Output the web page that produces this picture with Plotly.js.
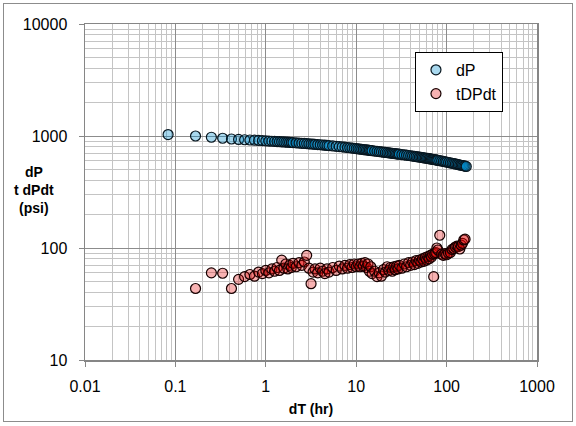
<!DOCTYPE html>
<html>
<head>
<meta charset="utf-8">
<script src="https://cdn.plot.ly/plotly-3.0.1.min.js"></script>
<style>
  html, body { margin: 0; padding: 0; background: #ffffff; }
  #wrap { position: relative; width: 576px; height: 426px; }
  #chart { position: absolute; left: 0; top: 0; width: 576px; height: 426px; }
  #frame { position: absolute; left: 3px; top: 3px; width: 568px; height: 417px;
           border: 1px solid #8c8c8c; pointer-events: none; }
</style>
</head>
<body>
<div id="wrap"><div id="chart"></div><div id="frame"></div></div>
<script>
// elapsed time (hr)
const dT = [0.083, 0.167, 0.25, 0.333, 0.417, 0.5, 0.583, 0.667, 0.75, 0.833, 0.917, 1.0,
  1.083, 1.167, 1.25, 1.333, 1.417, 1.5, 1.583, 1.667, 1.75, 1.833, 1.917, 2.0,
  2.167, 2.333, 2.5, 2.667, 2.833, 3.0, 3.167, 3.333, 3.5, 3.75, 4.0, 4.25, 4.5, 4.75, 5.0,
  5.5, 6.0, 6.5, 7.0, 7.5, 8.0, 8.5, 9.0, 9.5, 10,
  10.5, 11, 11.5, 12, 12.5, 13, 13.5, 14, 14.5, 15, 16, 17, 18, 19, 20,
  21, 22, 23, 24, 25, 26, 27, 28, 29, 30, 32, 34, 36, 38, 40,
  42, 44, 46, 48, 50, 52, 54, 56, 58, 60, 62, 64, 66, 68, 70,
  72, 74, 76, 78, 80, 84, 88, 92, 96, 100,
  105, 110, 115, 120, 125, 130, 135, 140, 145, 150, 155, 160, 165];

// pressure change (psi)
const dP = [1030, 1000, 975, 955, 940, 932, 926, 921, 917, 913, 909, 904,
  901, 898, 895, 892, 890, 887, 885, 882, 880, 877, 875, 873,
  869, 865, 861, 858, 855, 851, 848, 846, 843, 839, 835, 831, 828, 824, 821,
  815, 809, 804, 799, 794, 789, 785, 780, 776, 772,
  768, 764, 760, 757, 754, 751, 748, 745, 742, 739, 734, 729, 725, 721, 717,
  713, 710, 707, 704, 701, 698, 695, 693, 690, 688, 683, 678, 674, 670, 666,
  662, 658, 655, 651, 648, 645, 642, 639, 636, 633, 630, 627, 624, 622, 619,
  617, 614, 612, 610, 607, 602, 598, 593, 589, 585,
  580, 575, 571, 567, 563, 559, 555, 551, 548, 545, 541, 538, 535];

// pressure derivative t*dP/dt (psi)
const tDPdt = [null, 43.5, 60, 59.5, 43.5, 52.5, 55.5, 58, 56, 61, 59, 63,
  60, 65, 62, 67, 63, 78, 66, 72, 65, 70, 67, 73,
  68, 74, 70, 75, 86, 66, 48, 61, 65, 60, 66, 62, 59, 65, 61,
  67, 63, 69, 65, 70, 66, 71, 67, 72, 68,
  72, 68, 73, 69, 74, 67, 72, 62, 68, 59, 62, 55.5, 60, 56, 64,
  61, 68, 63, 67, 62, 68, 64, 69, 65, 70, 66, 72, 68, 74, 70,
  75, 71, 77, 73, 78, 75, 80, 76, 82, 78, 84, 80, 86, 83, 88,
  55.5, 89, 91, 100, 96, 130, 88, 86, 89, 87,
  90, 91, 97, 99, 102, 104, 103, 98, 106, 110, 118, 120, null];

const xTickVals = [0.01, 0.1, 1, 10, 100, 1000];
const xTickText = ['0.01', '0.1', '1', '10', '100', '1000'];
const yTickVals = [10, 100, 1000, 10000];
const yTickText = ['10', '100', '1000', '10000'];

const FONT = 'Liberation Sans, Arial, sans-serif';

const traces = [
  {
    x: dT, y: dP, name: 'dP', type: 'scatter', mode: 'markers',
    marker: { size: 10, color: 'rgba(0,140,205,0.34)', line: { color: '#08161f', width: 1.2 } }
  },
  {
    x: dT, y: tDPdt, name: 'tDPdt', type: 'scatter', mode: 'markers',
    marker: { size: 10, color: 'rgba(230,0,0,0.3)', line: { color: '#160000', width: 1.2 } }
  }
];

const axisCommon = {
  type: 'log',
  showline: true, mirror: true, linecolor: '#868686', linewidth: 1.5,
  showgrid: true, gridcolor: '#8c8c8c', gridwidth: 1,
  ticks: 'outside', ticklen: 5, tickcolor: '#868686', tickwidth: 1,
  tickmode: 'array',
  minor: { dtick: 'D1', showgrid: true, gridcolor: '#c4c4c4', gridwidth: 1, ticks: '' },
  tickfont: { family: FONT, size: 16, color: '#000000' },
  zeroline: false
};

const layout = {
  width: 576, height: 426,
  margin: { l: 85, r: 39, t: 24, b: 66 },
  paper_bgcolor: '#ffffff', plot_bgcolor: '#ffffff',
  showlegend: true,
  legend: {
    x: 0.730, y: 0.917, xanchor: 'left', yanchor: 'top',
    bgcolor: '#ffffff', bordercolor: '#000000', borderwidth: 1,
    font: { family: FONT, size: 16, color: '#000000' },
    itemwidth: 30
  },
  xaxis: Object.assign({}, axisCommon, {
    range: [-2, 3], tickvals: xTickVals, ticktext: xTickText,
    ticklabelstandoff: 6,
    title: { text: '<b>dT (hr)</b>', font: { family: FONT, size: 14, color: '#000000' }, standoff: 10 }
  }),
  yaxis: Object.assign({}, axisCommon, {
    range: [1, 4], tickvals: yTickVals, ticktext: yTickText,
    ticklabelstandoff: 8
  }),
  annotations: [
    {
      text: '<b>dP<br>t dPdt<br>(psi)</b>', xref: 'paper', yref: 'paper',
      x: -0.113, y: 0.505, xanchor: 'center', yanchor: 'middle', showarrow: false,
      align: 'center', font: { family: FONT, size: 14, color: '#000000' }
    }
  ]
};

Plotly.newPlot('chart', traces, layout, { displayModeBar: false, staticPlot: true });
</script>
</body>
</html>
